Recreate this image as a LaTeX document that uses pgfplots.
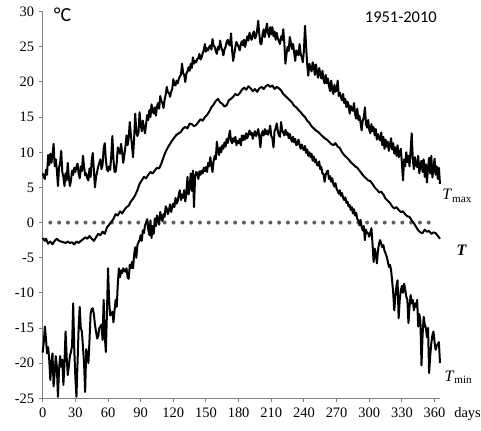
\documentclass[border=0pt]{standalone}
\usepackage{pgfplots}
\pgfplotsset{compat=1.18}
\usepackage{fontspec}
\setmainfont{Liberation Serif}
\newfontfamily\calibri{Carlito}
\definecolor{axisgray}{RGB}{128,128,128}
\definecolor{dotgray}{RGB}{95,95,95}

\begin{document}
\begin{tikzpicture}
\useasboundingbox (-42.7bp,-32.7bp) rectangle (438.3bp,398.3bp);
\begin{axis}[
  at={(0,0)}, anchor=south west,
  scale only axis, width=397.3bp, height=386.6bp,
  xmin=0, xmax=365, ymin=-25, ymax=30,
  axis x line*=bottom, axis y line*=left,
  axis line style={axisgray, line width=1.5bp},
  xtick={0,30,...,360}, ytick={-25,-20,...,30},
  tick style={axisgray, line width=1bp},
  major tick length=4bp,
  tick align=outside,
  xticklabel={\pgfmathprintnumber[assume math mode=true]{\tick}},
  yticklabel={\pgfmathprintnumber[assume math mode=true]{\tick}},
  ticklabel style={font=\fontsize{14.5}{15}\selectfont},
  xticklabel style={yshift=-2bp},
  yticklabel style={xshift=-1bp},
  clip=false,
]
% zero reference line
\addplot[dotgray, line width=4bp, line cap=round, dash pattern=on 0bp off 8.8bp]
  coordinates {(7,0) (361,0)};

% daily maximum temperature
\addplot[black, line width=2bp, line join=round] coordinates {
(0,7.0)(1,6.5)(2,6.2)(3,7.5)(4,6.8)(5,9.6)(6,8.2)(7,9.8)(8,8.5)(9,9.6)
(10,11.2)(11,8.0)(12,9.0)(13,7.5)(14,5.2)(15,7.8)(16,8.5)(17,10.2)(18,7.2)(19,6.5)
(20,5.2)(21,7.0)(22,6.0)(23,8.5)(24,6.5)(25,5.2)(26,6.0)(27,7.4)(28,6.8)(29,7.8)
(30,7.2)(31,8.0)(32,8.4)(33,7.0)(34,6.3)(35,8.0)(36,7.3)(37,9.5)(38,8.0)(39,6.7)
(40,7.0)(41,6.3)(42,6.0)(43,7.7)(44,6.5)(45,8.8)(46,9.9)(47,7.5)(48,5.0)(49,6.5)
(50,7.2)(51,8.0)(52,8.5)(53,9.0)(54,7.6)(55,8.2)(56,10.5)(57,11.3)(58,9.0)(59,7.6)
(60,7.3)(61,8.0)(62,7.5)(63,9.5)(64,12.3)(65,9.0)(66,7.2)(67,7.2)(68,8.5)(69,10.7)
(70,10.3)(71,9.8)(72,11.2)(73,10.0)(74,8.5)(75,9.6)(76,10.8)(77,12.4)(78,11.0)(79,12.0)
(80,14.3)(81,12.5)(82,11.0)(83,9.3)(84,12.0)(85,15.5)(86,13.0)(87,12.3)(88,12.8)(89,15.7)
(90,14.0)(91,13.0)(92,14.5)(93,13.5)(94,12.7)(95,14.0)(96,15.3)(97,14.6)(98,16.0)(99,15.0)
(100,16.8)(101,15.9)(102,15.5)(103,16.4)(104,15.2)(105,16.5)(106,17.0)(107,16.2)(108,18.0)(109,17.3)
(110,17.0)(111,16.3)(112,17.5)(113,18.2)(114,19.3)(115,18.5)(116,18.5)(117,17.9)(118,18.6)(119,19.0)
(120,20.4)(121,19.6)(122,19.5)(123,20.2)(124,19.8)(125,20.4)(126,20.8)(127,21.0)(128,22.6)(129,21.3)
(130,21.0)(131,20.0)(132,21.2)(133,21.5)(134,22.1)(135,21.6)(136,22.6)(137,22.0)(138,23.5)(139,22.6)
(140,23.0)(141,22.8)(142,23.3)(143,23.4)(144,24.0)(145,23.2)(146,23.5)(147,24.1)(148,24.5)(149,25.4)
(150,24.3)(151,24.8)(152,24.5)(153,25.0)(154,25.2)(155,24.6)(156,26.1)(157,25.2)(158,25.0)(159,24.4)
(160,24.0)(161,25.0)(162,24.6)(163,25.9)(164,25.0)(165,24.5)(166,23.8)(167,24.6)(168,25.0)(169,25.7)
(170,26.0)(171,25.4)(172,25.2)(173,26.9)(174,24.5)(175,23.0)(176,24.0)(177,25.0)(178,25.7)(179,25.3)
(180,25.0)(181,24.5)(182,25.4)(183,25.8)(184,25.2)(185,26.0)(186,25.0)(187,25.8)(188,26.5)(189,25.9)
(190,27.0)(191,26.3)(192,26.0)(193,26.8)(194,27.2)(195,26.2)(196,26.5)(197,27.4)(198,28.7)(199,26.8)
(200,25.4)(201,25.4)(202,26.8)(203,27.5)(204,26.4)(205,27.3)(206,28.3)(207,27.0)(208,26.4)(209,27.8)
(210,26.8)(211,27.8)(212,26.5)(213,27.2)(214,26.0)(215,27.0)(216,26.2)(217,25.8)(218,25.4)(219,26.5)
(220,26.0)(221,27.5)(222,25.5)(223,22.6)(224,24.0)(225,25.0)(226,24.4)(227,26.4)(228,25.6)(229,24.7)
(230,25.4)(231,24.2)(232,23.0)(233,24.5)(234,24.1)(235,23.8)(236,25.4)(237,24.0)(238,23.5)(239,22.8)
(240,24.5)(241,28.0)(242,25.0)(243,22.5)(244,20.9)(245,22.6)(246,22.0)(247,21.5)(248,22.8)(249,22.3)
(250,21.0)(251,22.5)(252,21.4)(253,20.6)(254,22.0)(255,21.2)(256,20.5)(257,21.6)(258,20.3)(259,19.8)
(260,21.0)(261,19.8)(262,20.5)(263,19.5)(264,18.7)(265,20.2)(266,19.0)(267,18.3)(268,19.6)(269,18.6)
(270,18.9)(271,20.2)(272,18.0)(273,18.5)(274,17.8)(275,17.4)(276,18.3)(277,17.0)(278,17.6)(279,16.4)
(280,17.2)(281,16.8)(282,15.5)(283,16.6)(284,16.0)(285,15.9)(286,17.0)(287,15.4)(288,14.8)(289,16.2)
(290,14.6)(291,15.2)(292,14.2)(293,13.1)(294,14.5)(295,15.0)(296,16.4)(297,14.0)(298,13.5)(299,14.6)
(300,13.2)(301,12.7)(302,14.0)(303,13.0)(304,13.6)(305,12.4)(306,13.3)(307,11.8)(308,12.6)(309,12.0)
(310,11.7)(311,12.8)(312,11.0)(313,12.2)(314,10.5)(315,11.8)(316,10.8)(317,11.5)(318,10.2)(319,11.0)
(320,12.0)(321,10.4)(322,11.3)(323,9.8)(324,10.7)(325,9.5)(326,11.0)(327,9.3)(328,9.8)(329,10.5)
(330,8.5)(331,6.0)(332,9.0)(333,8.0)(334,10.0)(335,8.6)(336,9.5)(337,8.0)(338,10.2)(339,12.7)
(340,9.0)(341,7.6)(342,9.3)(343,8.2)(344,7.9)(345,9.5)(346,7.0)(347,8.2)(348,8.8)(349,7.2)
(350,9.0)(351,6.5)(352,8.3)(353,5.7)(354,7.8)(355,9.2)(356,7.0)(357,9.5)(358,6.4)(359,7.6)
(360,9.1)(361,6.8)(362,8.0)(363,6.2)(364,7.8)(365,5.5)
};

% daily mean temperature
\addplot[black, line width=2bp, line join=round] coordinates {
(0,-2.2)(2,-2.6)(3,-2.3)(5,-3.0)(7,-2.7)(9,-3.1)(11,-2.6)(13,-2.3)(15,-2.6)(17,-2.7)
(19,-2.8)(21,-2.9)(23,-2.7)(25,-2.9)(27,-2.8)(29,-3.1)(31,-2.7)(33,-2.9)(35,-2.6)(37,-2.4)
(39,-2.1)(41,-2.3)(43,-1.9)(45,-2.3)(47,-2.6)(49,-2.1)(51,-1.6)(53,-1.8)(55,-1.3)(57,-1.6)
(59,-0.7)(61,-0.3)(63,0.1)(65,0.5)(67,1.2)(69,1.0)(71,1.6)(73,1.3)(75,1.8)(77,2.2)
(79,2.4)(81,3.0)(83,3.4)(85,3.9)(87,4.6)(89,5.5)(91,6.0)(93,6.5)(95,6.3)(97,6.8)
(99,7.2)(101,7.0)(103,7.4)(105,7.8)(107,7.7)(109,8.4)(111,9.3)(113,10.1)(115,10.7)(117,11.2)
(119,11.7)(121,12.1)(123,12.5)(125,12.7)(127,12.9)(129,13.4)(131,13.6)(133,13.4)(135,14.1)(137,14.0)
(139,13.7)(141,13.9)(143,14.3)(145,14.7)(147,14.5)(149,15.0)(151,15.3)(153,15.8)(155,16.4)(157,16.8)
(159,17.3)(161,17.6)(163,17.1)(165,16.9)(167,16.5)(169,16.7)(171,17.4)(173,17.6)(175,17.9)(177,18.3)
(179,18.1)(181,18.4)(183,18.9)(185,19.2)(187,18.9)(189,19.4)(191,19.1)(193,18.7)(195,19.0)(197,18.6)
(199,19.1)(201,19.3)(203,19.0)(205,19.4)(207,19.6)(209,19.3)(211,19.5)(213,19.0)(215,19.3)(217,19.1)
(219,18.8)(221,18.3)(223,18.0)(225,17.7)(227,17.4)(229,17.1)(231,16.6)(233,16.4)(235,16.0)(237,15.7)
(239,15.3)(241,15.0)(243,14.5)(245,14.2)(247,13.7)(249,13.4)(251,13.1)(253,12.9)(255,12.6)(257,12.3)
(259,12.0)(261,11.8)(263,11.5)(265,11.2)(267,11.0)(269,11.3)(271,10.8)(273,10.6)(275,10.0)(277,9.6)
(279,9.3)(281,9.0)(283,8.6)(285,8.3)(287,8.0)(289,7.8)(291,7.4)(293,7.0)(295,6.6)(297,6.3)
(299,6.0)(301,5.9)(303,5.5)(305,5.0)(307,4.7)(309,4.3)(311,4.4)(313,4.0)(315,3.4)(317,3.1)
(319,2.8)(321,2.3)(323,2.0)(325,2.2)(327,1.8)(329,1.5)(331,1.6)(333,1.2)(335,0.9)(337,0.8)
(339,0.3)(341,-0.1)(343,-0.6)(345,-1.1)(347,-1.4)(349,-1.5)(351,-1.0)(353,-1.3)(355,-1.2)(357,-1.6)
(359,-1.4)(361,-1.5)(363,-1.9)(365,-2.3)
};

% daily minimum temperature
\addplot[black, line width=2bp, line join=round] coordinates {
(0,-18.5)(1,-17.0)(2,-14.8)(3,-16.5)(4,-18.6)(5,-17.7)(6,-19.5)(7,-22.4)(8,-20.0)(9,-18.6)
(10,-23.3)(11,-21.5)(12,-19.0)(13,-20.5)(14,-24.8)(15,-21.0)(16,-19.0)(17,-20.5)(18,-19.5)(19,-23.1)
(20,-20.0)(21,-15.5)(22,-19.0)(23,-21.7)(24,-20.5)(25,-19.0)(26,-18.4)(27,-17.5)(28,-11.5)(29,-18.0)
(30,-22.0)(31,-24.8)(32,-20.0)(33,-15.0)(34,-12.0)(35,-15.0)(36,-15.5)(37,-17.7)(38,-20.0)(39,-24.1)
(40,-18.0)(41,-19.0)(42,-20.0)(43,-16.7)(44,-13.0)(45,-12.3)(46,-12.2)(47,-13.0)(48,-14.5)(49,-15.5)
(50,-16.5)(51,-16.2)(52,-15.0)(53,-14.8)(54,-14.5)(55,-16.7)(56,-11.0)(57,-16.0)(58,-18.4)(59,-13.0)
(60,-6.5)(61,-11.0)(62,-13.2)(63,-13.0)(64,-12.7)(65,-14.2)(66,-12.5)(67,-11.0)(68,-12.0)(69,-8.7)
(70,-6.5)(71,-7.8)(72,-6.8)(73,-7.2)(74,-6.5)(75,-6.8)(76,-7.0)(77,-6.5)(78,-7.8)(79,-8.0)
(80,-6.0)(81,-6.5)(82,-5.6)(83,-6.5)(84,-4.6)(85,-3.5)(86,-5.0)(87,-3.2)(88,-2.8)(89,-2.5)
(90,-1.8)(91,-2.6)(92,-1.1)(93,-1.5)(94,-0.4)(95,0.0)(96,0.5)(97,-1.0)(98,-1.8)(99,0.3)
(100,-2.2)(101,-0.5)(102,-1.6)(103,0.6)(104,-0.5)(105,1.0)(106,0.5)(107,-0.3)(108,1.5)(109,0.8)
(110,0.2)(111,1.2)(112,0.8)(113,2.3)(114,2.0)(115,1.2)(116,1.8)(117,2.6)(118,1.5)(119,2.2)
(120,2.7)(121,2.2)(122,3.5)(123,2.7)(124,3.0)(125,4.0)(126,4.6)(127,3.2)(128,4.0)(129,3.5)
(130,4.6)(131,3.0)(132,4.2)(133,6.5)(134,4.0)(135,5.1)(136,7.0)(137,4.5)(138,7.4)(139,2.2)
(140,6.5)(141,7.2)(142,7.0)(143,6.2)(144,7.3)(145,6.8)(146,7.4)(147,7.0)(148,7.8)(149,7.3)
(150,7.9)(151,7.2)(152,8.5)(153,8.0)(154,9.3)(155,8.2)(156,7.2)(157,8.7)(158,9.5)(159,9.0)
(160,11.5)(161,10.3)(162,9.6)(163,10.7)(164,10.0)(165,11.0)(166,10.5)(167,11.4)(168,10.8)(169,11.9)
(170,11.3)(171,12.2)(172,13.1)(173,11.6)(174,11.3)(175,12.0)(176,11.5)(177,12.2)(178,11.0)(179,11.6)
(180,11.3)(181,11.9)(182,11.0)(183,12.4)(184,11.7)(185,12.4)(186,11.8)(187,12.7)(188,12.0)(189,12.6)
(190,13.1)(191,12.5)(192,12.8)(193,11.9)(194,12.6)(195,13.0)(196,12.3)(197,12.7)(198,13.3)(199,12.2)
(200,10.7)(201,12.5)(202,13.0)(203,12.4)(204,13.3)(205,12.6)(206,13.1)(207,12.5)(208,12.9)(209,13.8)
(210,12.3)(211,12.0)(212,10.7)(213,13.0)(214,13.4)(215,14.1)(216,13.0)(217,12.4)(218,12.2)(219,14.3)
(220,13.1)(221,12.8)(222,12.4)(223,13.2)(224,12.5)(225,12.8)(226,12.0)(227,12.6)(228,12.0)(229,11.5)
(230,12.2)(231,11.4)(232,11.9)(233,11.0)(234,11.2)(235,11.8)(236,11.0)(237,10.5)(238,11.1)(239,10.6)
(240,10.3)(241,10.9)(242,9.9)(243,10.4)(244,9.5)(245,10.0)(246,9.3)(247,9.8)(248,8.8)(249,9.4)
(250,8.6)(251,9.0)(252,8.2)(253,8.1)(254,8.7)(255,7.6)(256,7.9)(257,7.0)(258,6.9)(259,5.8)
(260,6.8)(261,7.2)(262,7.4)(263,6.2)(264,6.6)(265,5.8)(266,6.3)(267,5.5)(268,5.1)(269,5.6)
(270,4.8)(271,4.5)(272,4.1)(273,4.6)(274,3.8)(275,4.2)(276,3.5)(277,3.2)(278,3.6)(279,2.8)
(280,3.0)(281,2.3)(282,2.5)(283,1.8)(284,2.2)(285,1.3)(286,1.9)(287,1.0)(288,1.4)(289,0.5)
(290,0.3)(291,-0.4)(292,0.4)(293,-0.6)(294,-1.1)(295,-0.5)(296,-2.5)(297,-1.0)(298,-1.5)(299,-1.5)
(300,-2.0)(301,-1.4)(302,-0.8)(303,-3.0)(304,-5.6)(305,-3.7)(306,-4.5)(307,-5.8)(308,-4.0)(309,-3.0)
(310,-2.5)(311,-3.0)(312,-3.5)(313,-3.2)(314,-4.0)(315,-4.4)(316,-4.8)(317,-5.5)(318,-6.3)(319,-6.0)
(320,-6.7)(321,-8.2)(322,-10.0)(323,-12.5)(324,-10.5)(325,-9.0)(326,-8.2)(327,-13.6)(328,-11.0)(329,-9.6)
(330,-9.0)(331,-10.0)(332,-8.7)(333,-9.5)(334,-10.5)(335,-11.0)(336,-14.3)(337,-12.0)(338,-10.3)(339,-11.5)
(340,-11.0)(341,-12.5)(342,-11.5)(343,-12.0)(344,-11.0)(345,-14.8)(346,-13.0)(347,-14.0)(348,-20.3)(349,-16.0)
(350,-13.4)(351,-14.5)(352,-15.0)(353,-16.3)(354,-15.0)(355,-21.4)(356,-19.0)(357,-17.2)(358,-16.0)(359,-15.5)
(360,-17.0)(361,-18.1)(362,-17.5)(363,-17.3)(364,-17.0)(365,-20.0)
};

% annotations
\node[anchor=west, inner sep=0pt, font=\calibri\fontsize{20}{20}\selectfont] at (axis cs:10,29.5) {°C};
\node[anchor=center, inner sep=0pt, font=\calibri\fontsize{16.5}{17}\selectfont] at (axis cs:329,29.2) {1951-2010};
\node[anchor=west, inner sep=0pt, font=\fontsize{16}{16}\selectfont] at (axis cs:367,3.8) {\textit{T}\textsubscript{max}};
\node[anchor=west, inner sep=0pt, font=\fontsize{16}{16}\selectfont] at (axis cs:380,-3.9) {\textbf{\textit{T}}};
\node[anchor=west, inner sep=0pt, font=\fontsize{16}{16}\selectfont] at (axis cs:369,-22.0) {\textit{T}\textsubscript{min}};
\node[anchor=west, inner sep=0pt, font=\fontsize{14.5}{15}\selectfont] at (axis cs:378,-27.3) {days};
\end{axis}
\end{tikzpicture}
\end{document}
